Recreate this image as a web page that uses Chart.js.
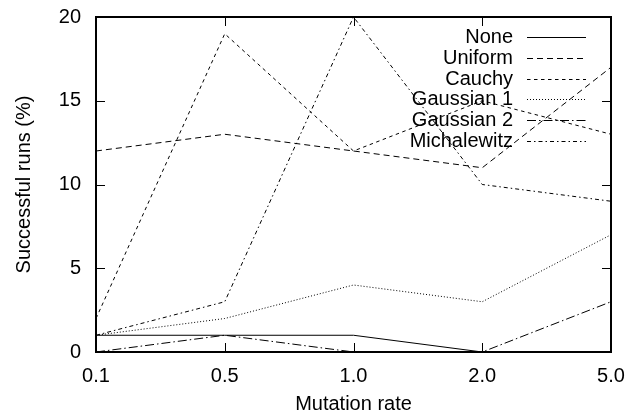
<!DOCTYPE html>
<html>
<head>
<meta charset="utf-8">
<script src="https://cdn.jsdelivr.net/npm/chart.js@4.4.0/dist/chart.umd.min.js"></script>
<style>
  html, body { margin: 0; padding: 0; background: #fff; }
</style>
</head>
<body>
<canvas id="myChart" width="627" height="417"></canvas>
<script>
const rates = ['0.1', '0.5', '1.0', '2.0', '5.0'];
const none = [1, 1, 1, 0, 0];
const uniform = [12, 13, 12, 11, 17];
const cauchy = [2, 19, 12, 15, 13];
const gaussian1 = [1, 2, 4, 3, 7];
const gaussian2 = [0, 1, 0, 0, 3];
const michalewitz = [1, 3, 20, 10, 9];

Chart.defaults.font.family = '"Liberation Sans", Arial, Helvetica, sans-serif';
Chart.defaults.font.size = 20;
Chart.defaults.color = '#000';

// gnuplot style frame: box, inward ticks, legend on the inside top right
const framePlugin = {
    id: 'frame',
    afterDatasetsDraw(chart) {
        const { ctx, chartArea: a, scales: { x, y } } = chart;
        ctx.save();
        ctx.strokeStyle = '#000';
        ctx.lineWidth = 1;
        ctx.beginPath();
        x.ticks.forEach((t, i) => {
            const px = Math.round(x.getPixelForTick(i)) + 0.5;
            ctx.moveTo(px, a.bottom); ctx.lineTo(px, a.bottom - 9);
            ctx.moveTo(px, a.top); ctx.lineTo(px, a.top + 9);
        });
        y.ticks.forEach((t, i) => {
            const py = Math.round(y.getPixelForTick(i)) + 0.5;
            ctx.moveTo(a.left, py); ctx.lineTo(a.left + 9, py);
            ctx.moveTo(a.right, py); ctx.lineTo(a.right - 9, py);
        });
        ctx.stroke();
        ctx.lineWidth = 2;
        ctx.strokeRect(a.left, a.top, a.width, a.height);

        // legend
        ctx.font = '20px "Liberation Sans", Arial, sans-serif';
        ctx.textAlign = 'right';
        ctx.textBaseline = 'middle';
        ctx.fillStyle = '#000';
        chart.data.datasets.forEach((ds, i) => {
            const ly = Math.round(a.top + 20 + i * 20.8) + 0.5;
            ctx.fillText(ds.label, a.right - 98, ly);
            ctx.lineWidth = 1;
            ctx.setLineDash(ds.borderDash || []);
            ctx.beginPath();
            ctx.moveTo(a.right - 84, ly);
            ctx.lineTo(a.right - 25, ly);
            ctx.stroke();
        });
        ctx.restore();
    }
};

const line = (label, data, dash) => ({
    label: label,
    data: data,
    borderColor: '#000',
    borderWidth: 1,
    borderDash: dash,
    pointRadius: 0,
    tension: 0,
    fill: false
});

const ctx = document.getElementById('myChart').getContext('2d');
const myChart = new Chart(ctx, {
    type: 'line',
    data: {
        labels: rates,
        datasets: [
            line('None', none, []),
            line('Uniform', uniform, [6, 4]),
            line('Cauchy', cauchy, [3.5, 3.5]),
            line('Gaussian 1', gaussian1, [1, 2]),
            line('Gaussian 2', gaussian2, [9, 3, 1.5, 3]),
            line('Michalewitz', michalewitz, [4, 3, 1.5, 3])
        ]
    },
    options: {
        responsive: false,
        animation: false,
        devicePixelRatio: 1,
        layout: { padding: { top: 17, right: 16, left: 0, bottom: 0 } },
        scales: {
            x: {
                type: 'category',
                offset: false,
                grid: { display: false, drawTicks: false },
                border: { display: false },
                ticks: { padding: 12, maxRotation: 0 },
                title: { display: true, text: 'Mutation rate', padding: { top: 0, bottom: 1 } },
                afterFit(scale) {
                    scale.height = 65;
                    scale.paddingLeft = 0;
                    scale.paddingRight = 0;
                }
            },
            y: {
                min: 0,
                max: 20,
                grid: { display: false, drawTicks: false },
                border: { display: false },
                ticks: { stepSize: 5, padding: 15 },
                title: { display: true, text: 'Successful runs (%)', padding: { top: 12, bottom: 0 } },
                afterFit(scale) {
                    scale.width = 96;
                    scale.paddingTop = 0;
                    scale.paddingBottom = 0;
                }
            }
        },
        plugins: {
            legend: false,
            tooltip: { enabled: false }
        }
    },
    plugins: [framePlugin]
});
</script>
</body>
</html>
